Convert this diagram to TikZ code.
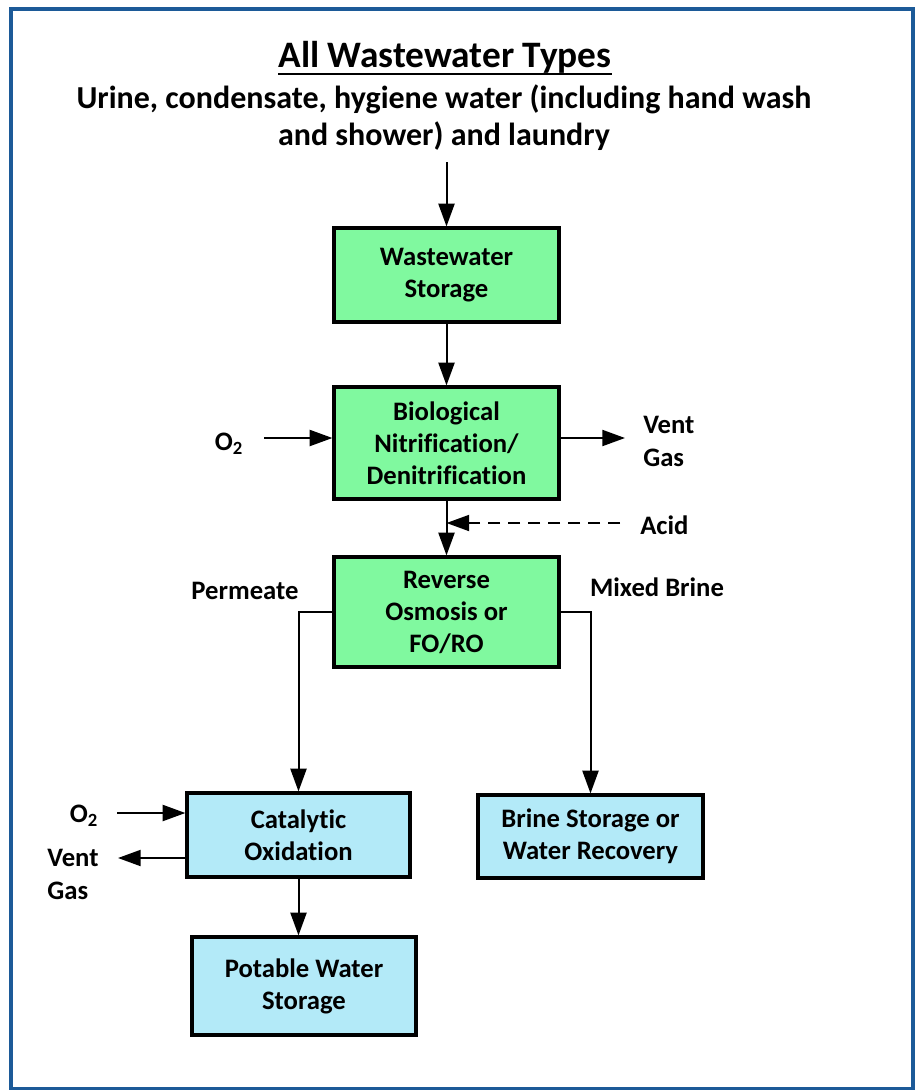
\documentclass[tikz,border=0pt]{standalone}
\usepackage{fontspec}
\setmainfont{Carlito}[Ligatures=NoCommon]
\usetikzlibrary{arrows.meta,shadows}
\definecolor{boxgreen}{HTML}{80F99F}
\definecolor{boxblue}{HTML}{B3EAF8}
\definecolor{framebl}{HTML}{1C5A98}
\tikzset{
  flow/.style={line width=1.5pt,-{Triangle[length=17pt,width=12pt]}},
  procbox/.style={draw,line width=2.4pt,align=center,font=\bfseries\fontsize{20}{24}\selectfont,
    drop shadow={shadow xshift=1pt,shadow yshift=-1pt,fill=black!40,opacity=1}},
  lbl/.style={font=\bfseries\fontsize{20}{24.75}\selectfont,align=left,inner sep=0pt}
}
\begin{document}
\begin{tikzpicture}[x=0.75pt,y=-0.75pt]
  \useasboundingbox (0,0) rectangle (915,1090);
  \draw[framebl,line width=2.5pt] (11,9) rectangle (913,1089);
  % heading
  \node[font=\bfseries\fontsize{28}{32}\selectfont,inner sep=0pt] (title) at (445,57) {All Wastewater Types};
  \draw[line width=1.6pt] ([yshift=-5pt]title.base west) -- ([yshift=-5pt]title.base east);
  \node[font=\bfseries\fontsize{24}{27.75}\selectfont,align=center] (inflow) at (444,118)
    {Urine, condensate, hygiene water (including hand wash\\and shower) and laundry};
  % treatment train
  \node[procbox,fill=boxgreen,minimum width=168.75pt,minimum height=70.5pt] (ws) at (446.5,275) {Wastewater\\Storage};
  \node[procbox,fill=boxgreen,minimum width=168.75pt,minimum height=84pt] (bio) at (446.5,443) {Biological\\Nitrification/\\Denitrification};
  \node[procbox,fill=boxgreen,minimum width=168.75pt,minimum height=82.5pt] (ro) at (446.5,612) {Reverse\\Osmosis or\\FO/RO};
  \node[procbox,fill=boxblue,minimum width=167.25pt,minimum height=63pt] (cat) at (298.5,835) {Catalytic\\Oxidation};
  \node[procbox,fill=boxblue,minimum width=168pt,minimum height=73.5pt] (pot) at (304,986) {Potable Water\\Storage};
  \node[procbox,fill=boxblue,minimum width=168.75pt,minimum height=62.25pt] (brine) at (590.5,836.5) {Brine Storage or\\Water Recovery};
  % side streams
  \node[lbl] (o2a) at (229,444) {O\textsubscript{2}};
  \node[lbl,anchor=west] (venta) at (643,441) {Vent\\Gas};
  \node[lbl,anchor=west] (acid) at (640,525) {Acid};
  \node[lbl] (perm) at (245,591) {Permeate};
  \node[lbl] (mixb) at (657,587) {Mixed Brine};
  \node[lbl] (o2b) at (84,816) {O\textsubscript{2}};
  \node[lbl] (ventb) at (73,874) {Vent\\Gas};
  \coordinate (top) at (447,162);
  \coordinate (o2ain) at (264,438);
  \coordinate (ventaout) at (625,438);
  \coordinate (acidin) at (620,523);
  \coordinate (o2bin) at (117,813);
  \coordinate (ventbout) at (118,858);
  % connectors
  \draw[flow] (ws.north |- top) -- (ws.north);
  \draw[flow] (ws.south) -- (bio.north);
  \draw[flow] (o2ain) -- (o2ain -| bio.west);
  \draw[flow] (bio.east |- ventaout) -- (ventaout);
  \draw[flow] (bio.south) -- (ro.north);
  \draw[flow,dash pattern=on 9pt off 6pt] (acidin) -- (bio.south |- acidin);
  \draw[flow] (ro.west) -| (cat.north);
  \draw[flow] (ro.east) -| (brine.north);
  \draw[flow] (o2bin) -- (o2bin -| cat.west);
  \draw[flow] (cat.west |- ventbout) -- (ventbout);
  \draw[flow] (cat.south) -- (cat.south |- pot.north);
\end{tikzpicture}
\end{document}
